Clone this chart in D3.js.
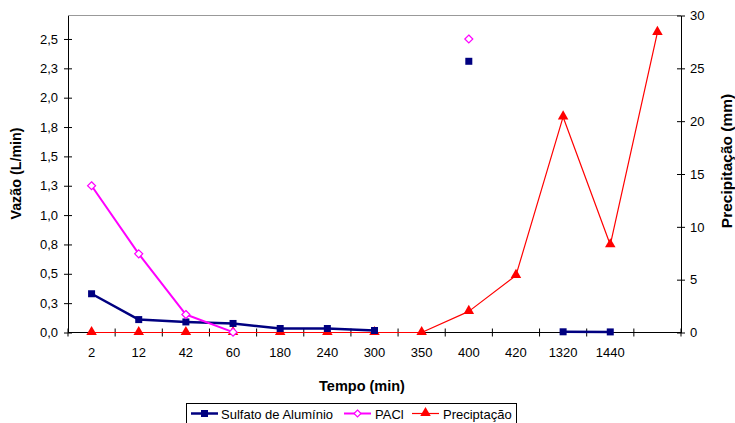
<!DOCTYPE html>
<html>
<head>
<meta charset="utf-8">
<script src="https://cdn.jsdelivr.net/npm/d3@7"></script>
<style>
  html, body { margin: 0; padding: 0; background: #fff; }
  svg { display: block; font-family: Arial, "Liberation Sans", sans-serif; }
</style>
</head>
<body>
<svg id="chart" width="735" height="423"></svg>
<script>
// Time categories (the last one has no label)
const categories = ["2", "12", "42", "60", "180", "240", "300", "350", "400", "420", "1320", "1440", ""];

// Flow rates (L/min); null = no measurement
const sulfato = [0.33, 0.11, 0.09, 0.077, 0.034, 0.034, 0.017, null, 2.31, null, 0.006, 0.005, null];
const pacl    = [1.25, 0.67, 0.153, 0.003, null, null, null, null, 2.5, null, null, null, null];

// Precipitation (mm)
const precip  = [0, 0, 0, 0, 0, 0, 0, 0, 2, 5.4, 20.4, 8.3, 28.4];

const leftTicks  = [0, 0.25, 0.5, 0.75, 1, 1.25, 1.5, 1.75, 2, 2.25, 2.5];
const rightTicks = [0, 5, 10, 15, 20, 25, 30];

const svg = d3.select("#chart");
const m = { left: 68, right: 681, top: 15.5, bottom: 332.5 };

const x = d3.scaleBand().domain(categories.map((c, i) => i)).range([m.left, m.right]);
const yL = d3.scaleLinear().domain([0, 2.7]).range([m.bottom, m.top]);
const yR = d3.scaleLinear().domain([0, 30]).range([m.bottom, m.top]);
const cx = i => x(i) + x.bandwidth() / 2;

const fmtComma = v => d3.format(".1f")(v).replace(".", ",");
const FS = 13;

// plot-area top border
svg.append("line")
  .attr("x1", m.left).attr("x2", m.right)
  .attr("y1", m.top).attr("y2", m.top)
  .attr("stroke", "#999").attr("stroke-width", 1);

// Left axis
const gL = svg.append("g").attr("transform", `translate(${m.left},0)`)
  .call(d3.axisLeft(yL).tickValues(leftTicks).tickFormat(fmtComma).tickSizeInner(4).tickSizeOuter(0).tickPadding(6));
gL.selectAll(".tick line").attr("x1", 4).attr("x2", -4);

// Right axis
const gR = svg.append("g").attr("transform", `translate(${m.right},0)`)
  .call(d3.axisRight(yR).tickValues(rightTicks).tickSizeInner(4).tickSizeOuter(0).tickPadding(5));
gR.selectAll(".tick line").attr("x1", -4).attr("x2", 4);

// Bottom axis: ticks at category boundaries, labels at centres
const gB = svg.append("g").attr("transform", `translate(0,${m.bottom})`);
gB.append("line").attr("x1", m.left).attr("x2", m.right).attr("stroke", "#000");
d3.range(categories.length + 1).forEach(i => {
  const xx = m.left + i * x.bandwidth();
  gB.append("line").attr("x1", xx).attr("x2", xx).attr("y1", -4).attr("y2", 4).attr("stroke", "#000");
});
gB.selectAll("text.cat").data(categories).join("text")
  .attr("class", "cat")
  .attr("x", (d, i) => cx(i)).attr("y", 24.5)
  .attr("text-anchor", "middle")
  .attr("font-size", FS).attr("fill", "#000")
  .text(d => d);

[gL, gR].forEach(g => {
  g.select(".domain").attr("stroke", "#000");
  g.selectAll(".tick line").attr("stroke", "#000");
  g.selectAll(".tick text").attr("font-size", FS).attr("fill", "#000").attr("font-family", "Arial, 'Liberation Sans', sans-serif");
});

// Axis titles
svg.append("text")
  .attr("transform", `translate(21,173.5) rotate(-90)`)
  .attr("text-anchor", "middle").attr("font-size", 14.3).attr("font-weight", "bold")
  .text("Vazão (L/min)");
svg.append("text")
  .attr("transform", `translate(732,161) rotate(-90)`)
  .attr("text-anchor", "middle").attr("font-size", 15.5).attr("font-weight", "bold")
  .text("Precipitação (mm)");
svg.append("text")
  .attr("x", 362).attr("y", 391)
  .attr("text-anchor", "middle").attr("font-size", 14.5).attr("font-weight", "bold")
  .text("Tempo (min)");

// Series
const navy = "#000080", magenta = "#ff00ff", red = "#ff0000";
const plot = svg.append("g");

function drawLine(values, yScale, color, width) {
  const line = d3.line().defined(d => d != null).x((d, i) => cx(i)).y(d => yScale(d));
  plot.append("path").datum(values)
    .attr("d", line).attr("fill", "none")
    .attr("stroke", color).attr("stroke-width", width).attr("stroke-linejoin", "round");
}

drawLine(precip, yR, red, 1.2);
drawLine(sulfato, yL, navy, 2.5);
drawLine(pacl, yL, magenta, 2);

const idx = arr => arr.map((v, i) => ({ v, i })).filter(d => d.v != null);

// triangles
plot.selectAll("path.tri").data(idx(precip)).join("path")
  .attr("class", "tri")
  .attr("d", d3.symbol().type(d3.symbolTriangle).size(48))
  .attr("transform", d => `translate(${cx(d.i)},${yR(d.v) - 0.5})`)
  .attr("fill", red);

// squares
plot.selectAll("rect.sq").data(idx(sulfato)).join("rect")
  .attr("class", "sq")
  .attr("x", d => cx(d.i) - 3.5).attr("y", d => yL(d.v) - 3.5)
  .attr("width", 7).attr("height", 7)
  .attr("fill", navy);

// open diamonds
plot.selectAll("path.dia").data(idx(pacl)).join("path")
  .attr("class", "dia")
  .attr("d", "M0,-4L4,0L0,4L-4,0Z")
  .attr("transform", d => `translate(${cx(d.i)},${yL(d.v)})`)
  .attr("fill", "#fff").attr("stroke", magenta).attr("stroke-width", 1.2);

// Legend
const lg = svg.append("g");
lg.append("rect").attr("x", 186.5).attr("y", 403.5).attr("width", 330).attr("height", 26)
  .attr("fill", "#fff").attr("stroke", "#000").attr("stroke-width", 1);

const legendItems = [
  { name: "Sulfato de Alumínio", color: navy, w: 2.5, mark: "sq", x: 191, tx: 221 },
  { name: "PACl", color: magenta, w: 2, mark: "dia", x: 344, tx: 375 },
  { name: "Preciptação", color: red, w: 1.2, mark: "tri", x: 412, tx: 443 }
];
const ly = 413.5;
legendItems.forEach(it => {
  lg.append("line").attr("x1", it.x).attr("x2", it.x + 27).attr("y1", ly).attr("y2", ly)
    .attr("stroke", it.color).attr("stroke-width", it.w);
  const mx = it.x + 13.5;
  if (it.mark === "sq") {
    lg.append("rect").attr("x", mx - 3.5).attr("y", ly - 3.5).attr("width", 7).attr("height", 7).attr("fill", it.color);
  } else if (it.mark === "dia") {
    lg.append("path").attr("d", "M0,-3.5L3.5,0L0,3.5L-3.5,0Z")
      .attr("transform", `translate(${mx},${ly})`)
      .attr("fill", "#fff").attr("stroke", it.color).attr("stroke-width", 1.2);
  } else {
    lg.append("path").attr("d", d3.symbol().type(d3.symbolTriangle).size(48))
      .attr("transform", `translate(${mx},${ly - 0.5})`).attr("fill", it.color);
  }
  lg.append("text").attr("x", it.tx).attr("y", ly + 5).attr("font-size", FS).text(it.name);
});
</script>
</body>
</html>
